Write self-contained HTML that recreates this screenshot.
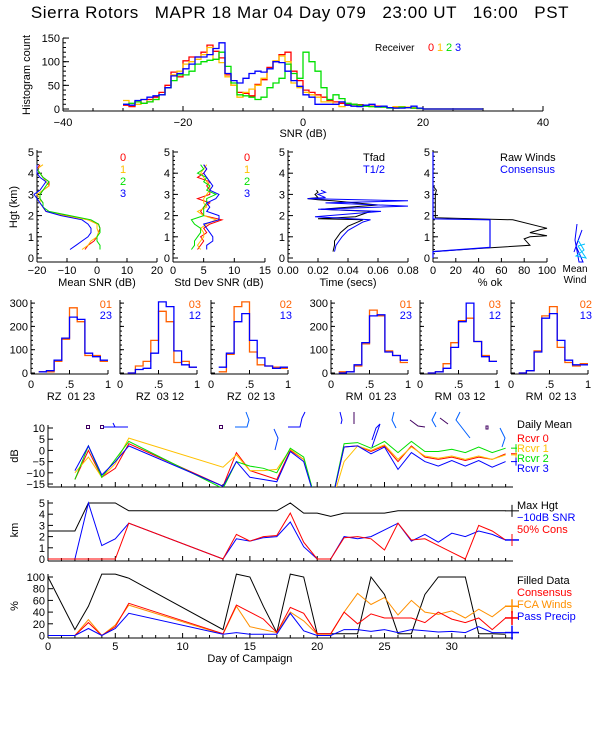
<!DOCTYPE html>
<html><head><meta charset="utf-8"><style>
html,body{margin:0;padding:0;background:#fff;}
svg{display:block;font-family:"Liberation Sans",sans-serif;}
text{white-space:pre;}
</style></head><body>
<svg id="fig" width="600" height="750" viewBox="0 0 600 750" xmlns="http://www.w3.org/2000/svg">
<text x="300" y="18" font-size="17" letter-spacing="0.6" text-anchor="middle">Sierra Rotors   MAPR 18 Mar 04 Day 079   23:00 UT   16:00   PST</text>
</svg>
<script>
// ---------- DATA: top SNR histogram (bins -30..29 dB, 1 dB wide) ----------
const snrBinStart = -30;
const histR0 = [8,5,15,12,20,25,35,50,78,68,102,110,110,120,135,122,108,72,50,35,33,28,52,62,88,100,115,120,80,60,40,35,30,25,18,15,12,10,10,9,7,6,6,5,3,3,3,3,2,1,0,0,0,0,0,0,0,0,0,0];
const histR1 = [18,8,10,20,15,20,30,45,72,80,95,100,105,115,130,105,98,68,50,25,35,42,50,65,85,102,112,100,55,45,35,30,25,15,15,10,5,8,9,8,6,5,5,4,3,5,5,4,3,1,0,0,0,0,0,0,0,0,0,0];
const histR2 = [10,12,15,12,15,20,30,45,60,72,72,80,95,100,103,105,120,90,55,30,28,25,20,25,45,55,65,95,75,65,120,100,80,45,20,30,22,12,10,8,6,5,4,4,2,2,4,3,2,1,0,0,0,0,0,0,0,0,0,0];
const histR3 = [10,8,18,20,25,28,30,45,70,75,85,95,110,110,115,128,140,75,60,55,65,75,80,78,85,100,98,80,60,48,30,25,10,10,10,10,15,8,6,5,8,10,5,6,3,2,2,3,6,2,0,0,0,0,0,0,0,0,0,0];
const histTicksX = [-40,-20,0,20,40];
const histTicksY = [0,50,100,150];

// ---------- DATA: profiles ----------
const profHgt = [0.4,0.6,0.8,1.0,1.2,1.4,1.6,1.8,2.0,2.2,2.4,2.6,2.8,3.0,3.2,3.4,3.6,3.8,4.0,4.2,4.4];
const meanSnr0 = [-4,-3,-1,0,0.5,1,0.5,-3,-10,-17,-18,-18,-19,-19,-18,-16,-16,-18,-19,-20,-19];
const meanSnr1 = [-5,-3,-2,0,0.5,0,0,-3,-11,-17,-18,-19,-19,-20,-18,-16,-17,-18,-19,-20,-18];
const meanSnr2 = [1,1,0,0,1,1,0.5,-2,-9,-16,-18,-18,-19,-19,-18,-17,-16,-18,-19,-20,-20];
const meanSnr3 = [-9,-7,-5,-3,-2,-2,-3,-5,-12,-17,-18,-19,-20,-21,-19,-18,-17,-19,-20,-20,-20];
const sdSnr0 = [4,4.5,5,4.5,5.5,5,6,8,5,4.5,5,6,4,6,6,5.5,6,4,5,5.5,5];
const sdSnr1 = [4.5,4,4.5,5,5,4.5,5.5,7,5,4,5.5,5,5,5.5,6,6,5.5,5,4.5,5,5.5];
const sdSnr2 = [3,3.5,3.5,4,4.5,4.5,3.5,3,5,5,5,5.5,5.5,7,5.5,6,5,5.5,4,5,4.5];
const sdSnr3 = [5.5,5.5,6.5,6.5,6,5.5,5,7.5,7.5,5.5,6,5.5,7,7.5,6,6.5,6,5.5,5,5.5,5];
const tfadT = [0.030,0.031,0.031,0.033,0.035,0.040,0.050,0.020,0.045,0.055,0.022,0.060,0.030,0.020,0.013,0.020,0.018,0.020,0.019];
const tfadH = [0.3,0.6,0.8,1.0,1.2,1.5,1.8,1.85,1.95,2.2,2.3,2.5,2.7,2.75,2.8,2.85,3.0,3.1,3.2];
const thalfT = [0.031,0.032,0.034,0.036,0.040,0.050,0.055,0.018,0.062,0.020,0.080,0.025,0.080,0.013,0.025,0.020,0.025,0.022];
const thalfH = [0.3,0.6,0.8,1.0,1.3,1.7,1.8,1.95,2.2,2.3,2.45,2.6,2.7,2.8,2.85,3.0,3.1,3.2];
const rawPct = [0,0,40,85,80,85,100,85,95,100,70,2,2,3,0,0];
const rawH = [0,0.3,0.45,0.6,0.9,1.0,1.05,1.2,1.35,1.4,1.8,1.9,3.0,3.2,3.4,5];
const consPct = [0,0,50,50,0,0];
const consH = [0,0.3,0.5,1.8,1.85,5];

// ---------- DATA: correlation histograms (bins 0.1..1.0 width 0.1) ----------
const corrBins = [0.1,0.2,0.3,0.4,0.5,0.6,0.7,0.8,0.9];
const corrTitles = ["RZ  01 23","RZ  03 12","RZ  02 13","RM  01 23","RM  03 12","RM  02 13"];
const corrKeyA = ["01","03","02","01","03","02"];
const corrKeyB = ["23","12","13","23","12","13"];
const corrA = [[5,5,50,145,280,220,75,75,50],[0,30,50,140,265,220,45,50,25],[5,80,285,305,90,35,30,25,20],[5,5,30,125,270,245,95,75,45],[0,5,40,130,225,235,135,75,50],[0,10,95,245,285,110,45,30,40]];
const corrB = [[5,10,55,150,240,230,85,70,55],[0,15,20,85,305,285,95,35,25],[25,85,220,255,140,65,30,20,25],[0,5,35,130,245,250,90,75,55],[0,5,20,110,220,300,135,70,50],[0,10,90,235,255,140,55,35,35]];

// ---------- DATA: campaign time series ----------
const dayTicks = [0,5,10,15,20,25,30];
const dbDays = [2,3,4,5,6,13,14,15,16,17,18,19,20,21,22,23,24,25,26,27,28,29,30,31,32,33,34];
const dbR0 = [-13,0,-12,-8,3,-16,-1,-9,-11,-13,0,-4,-25,-25,1.5,2,-0.5,2,-5,2,-3,-4,-3,-4.5,-3,-4,-1.5];
const dbR1 = [-10,-3,-12,-6,5.5,-7.5,-2,-9,-9,-8.5,0.5,-4,-25,-25,-5,2,0,2.5,-4,1.5,-2.5,-3.5,-2.5,-4,-2.5,-4,-2];
const dbR2 = [-13,2,-12,-4,4,-17,-5,-7,-8,-10,1,-3,-25,-25,3,3.5,1,4,-1,4,-0.5,-0.5,0.5,-1,1.5,-1,1];
const dbR3 = [-9,2,-11,-5,2,-16,-5,-12,-13,-14,-0.5,-5,-25,-25,1.5,2,-1.5,1.5,-8.5,-1,-5,-7,-4.5,-7,-4.5,-7.5,-5];
const dbTicks = [10,5,0,-5,-10,-15];
const kmDays = [0,2,3,4,5,6,13,14,15,16,17,18,19,20,21,22,23,24,25,26,27,28,29,30,31,32,33,34];
const kmMax = [2.5,2.5,5,5,5,4.3,4.3,4.3,4.3,4.3,4.3,5,4.1,4.1,3.8,4.1,4.1,4.1,4.1,4.3,4.3,4.3,4.3,4.3,4.3,4.3,4.3,4.3];
const kmSnr = [0,0,5,1.2,1.8,3.2,0,1.8,1.6,1.9,2,3.3,1.1,0,0,2,1.8,2,2.6,3.2,1.6,2.2,1.5,2.3,2,2.5,2.2,1.7];
const kmCons = [0,0,0,0,0,3.2,0,2.2,1.6,2,2.1,4.1,1.5,0,0,1.9,2,1.8,0.8,3.2,1.7,1.8,1.2,0.6,0,3,2.5,1.7];
const kmTicks = [0,1,2,3,4,5];
const pctDays = [0,2,3,4,5,6,13,14,15,16,17,18,19,20,21,22,23,24,25,26,27,28,29,30,31,32,33,34];
const pctFilled = [100,10,50,105,105,98,10,105,100,50,5,105,100,3,3,3,3,100,70,3,3,70,100,100,100,3,3,2];
const pctCons = [0,0,22,0,15,55,3,52,40,28,5,48,38,3,3,40,20,37,30,30,30,22,40,28,22,30,10,30];
const pctFca = [0,0,27,0,18,52,2,50,15,10,5,40,25,2,2,40,72,53,65,35,60,40,36,42,30,45,32,50];
const pctPrecip = [0,0,12,0,12,38,2,5,2,2,2,38,8,0,0,10,10,7,10,5,10,8,6,7,5,15,5,5];
const pctTicks = [0,20,40,60,80,100];

// ---------- drawing ----------
const svg = document.getElementById('fig');
const NS = 'http://www.w3.org/2000/svg';
function el(tag, attrs, parent){
  const e = document.createElementNS(NS, tag);
  for (const k in attrs) e.setAttribute(k, attrs[k]);
  (parent || svg).appendChild(e);
  return e;
}
function txt(x, y, s, size, color, anchor, name){
  const t = el('text', {x:x, y:y, 'font-size':size, fill:color, 'text-anchor':anchor||'start'});
  t.textContent = s;
  
  
  return t;
}
function poly(pts, color, name, w){
  const p = el('polyline', {points: pts.map(q=>q[0].toFixed(1)+','+q[1].toFixed(1)).join(' '), fill:'none', stroke:color, 'stroke-width': w||1.2});
  
  
  return p;
}
function steps(edges0, width, vals, xf, yf){
  const pts = [];
  for (let i=0;i<vals.length;i++){
    const a = edges0 + i*width, b = a + width;
    pts.push([xf(a), yf(vals[i])]); pts.push([xf(b), yf(vals[i])]);
  }
  return pts;
}
function line(x1,y1,x2,y2,name,color,w){
  const l = el('line', {x1:x1,y1:y1,x2:x2,y2:y2,stroke:color||'#000','stroke-width':w||1});
  
  
  return l;
}
const rc = ['#ff0000','#ffc000','#00e000','#0000ff'];

// --- top histogram ---
{
  const x = v => 303 + v*6.0, y = v => 109 - v*0.473;
  line(x(-40),111,x(40),111,'hist-x-axis');
  line(x(-40),38,x(-40),111,'hist-y-axis');
  histTicksX.forEach(v=>{ line(x(v),111,x(v),106,'hist-x-tick'); txt(x(v),126,v===0?'0':String(v).replace('-','\u2212'),11,'#000','middle','hist-x-tick-label'); });
  for (let v=-35; v<=35; v+=5) line(x(v),111,x(v),108,'hist-x-minor-tick');
  histTicksY.forEach(v=>{ line(x(-40),y(v),x(-40)+6,y(v),'hist-y-tick'); txt(x(-40)-3,y(v)+4,String(v),11,'#000','end','hist-y-tick-label'); });
  for (let v=0; v<=150; v+=10) line(x(-40),y(v),x(-40)+3,y(v),'hist-y-minor-tick');
  txt(303,137,'SNR (dB)',11,'#000','middle','hist-x-title');
  const yt = txt(0,0,'Histogram count',11,'#000','middle','hist-y-title');
  yt.setAttribute('transform','translate(30,75) rotate(-90)');
  [histR0,histR1,histR2,histR3].forEach((h,i)=> poly(steps(snrBinStart,1,h,x,y), rc[i], 'hist-receiver-'+i, 1.3));
  txt(375,51,'Receiver',10,'#000','start','hist-legend-title');
  ['0','1','2','3'].forEach((s,i)=> txt(428+i*9,51,s,11,rc[i],'start','hist-legend-receiver-'+s));
}

// --- profile panels ---
const yh = h => 258 - 21.2*h;
function profAxes(x0, x1, ticks, fmt, title, pname){
  line(x0,262,x1,262,pname+'-x-axis');
  line(x0,150,x0,262,pname+'-y-axis');
  ticks.forEach(t=>{ line(t.x,262,t.x,258,pname+'-x-tick'); txt(t.x,274,t.l,11,'#000','middle',pname+'-x-tick-label'); });
  for (let h=0; h<=5; h++){ line(x0,yh(h),x0+5,yh(h),pname+'-y-tick'); txt(x0-3,yh(h)+4,String(h),11,'#000','end',pname+'-y-tick-label'); }
  for (let h=0.2; h<5; h+=0.2) line(x0,yh(h),x0+2,yh(h),pname+'-y-minor-tick');
  txt((x0+x1)/2,286,title,11,'#000','middle',pname+'-x-title');
}
{
  const x1 = v => 97 + 3*v;
  profAxes(x1(-20),x1(20),[-20,-10,0,10,20].map(v=>({x:x1(v),l:String(v).replace('-','\u2212')})),null,'Mean SNR (dB)','mean-snr');
  const yt = txt(0,0,'Hgt (km)',11,'#000','middle','profile-y-title');
  yt.setAttribute('transform','translate(17,207) rotate(-90)');
  [meanSnr0,meanSnr1,meanSnr2,meanSnr3].forEach((a,i)=> poly(a.map((v,j)=>[x1(v),yh(profHgt[j])]), rc[i], 'mean-snr-receiver-'+i, 1));
  ['0','1','2','3'].forEach((s,i)=> txt(120,161+i*12,s,11,rc[i],'start','mean-snr-legend-'+s));
  const x2 = v => 173 + 6.13*v;
  profAxes(x2(0),x2(15),[0,5,10,15].map(v=>({x:x2(v),l:String(v)})),null,'Std Dev SNR (dB)','std-snr');
  [sdSnr0,sdSnr1,sdSnr2,sdSnr3].forEach((a,i)=> poly(a.map((v,j)=>[x2(v),yh(profHgt[j])]), rc[i], 'std-snr-receiver-'+i, 1));
  ['0','1','2','3'].forEach((s,i)=> txt(244,161+i*12,s,11,rc[i],'start','std-snr-legend-'+s));
  const x3 = v => 288 + 1500*v;
  profAxes(x3(0),x3(0.08),[0,0.02,0.04,0.06,0.08].map(v=>({x:x3(v),l:v.toFixed(2)})),null,'Time (secs)','time');
  poly(tfadT.map((v,j)=>[x3(v),yh(tfadH[j])]),'#000','tfad-line',1);
  poly(thalfT.map((v,j)=>[x3(v),yh(thalfH[j])]),'#0000ff','thalf-line',1);
  txt(363,161,'Tfad',11,'#000','start','time-legend-tfad');
  txt(363,173,'T1/2',11,'#0000ff','start','time-legend-thalf');
  const x4 = v => 433 + 1.14*v;
  profAxes(x4(0),x4(100),[0,20,40,60,80,100].map(v=>({x:x4(v),l:String(v)})),null,'% ok','pct-ok');
  poly(rawPct.map((v,j)=>[x4(v),yh(rawH[j])]),'#000','raw-winds-line',1);
  poly(consPct.map((v,j)=>[x4(v),yh(consH[j])]),'#0000ff','consensus-line',1.2);
  txt(500,161,'Raw Winds',11,'#000','start','pct-ok-legend-raw');
  txt(500,173,'Consensus',11,'#0000ff','start','pct-ok-legend-consensus');
  const g = el('g',{stroke:'#00a0ff','stroke-width':1,fill:'none'});
  
  
  el('polyline',{points:'577,224 575,240 579,262 583,262 576,246 582,230 574,252',stroke:'#0000ff'},g);
  el('polyline',{points:'578,240 584,250 576,256 586,258 578,246 585,244',stroke:'#00c0ff'},g);
  txt(575,272,'Mean',10,'#000','middle','mean-wind-label-1');
  txt(575,283,'Wind',10,'#000','middle','mean-wind-label-2');
}

// --- correlation histograms ---
{
  const lefts = [31,120,211,331,420,511];
  const yc = v => 373 - 0.233*v;
  lefts.forEach((L,p)=>{
    const xc = v => L + 77*v;
    line(L,374,L+77,374,'corr-x-axis');
    line(L,300,L,374,'corr-y-axis');
    [0,100,200,300].forEach(v=>{ line(L,yc(v),L+4,yc(v),'corr-y-tick'); if(p===0||p===3) txt(L-3,yc(v)+4,String(v),11,'#000','end','corr-y-tick-label'); });
    for (let v=20; v<=300; v+=20) line(L,yc(v),L+2,yc(v),'corr-y-minor-tick');
    [[0,'0'],[0.5,'.5'],[1,'1']].forEach(t=>{ line(xc(t[0]),374,xc(t[0]),370,'corr-x-tick'); txt(xc(t[0]),388,t[1],11,'#000','middle','corr-x-tick-label'); });
    txt(L+40,400,corrTitles[p],11,'#000','middle','corr-title-'+p);
    poly(steps(corrBins[0],0.1,corrA[p],xc,yc),'#ff6000','corr-hist-a-'+p,1.3);
    poly(steps(corrBins[0],0.1,corrB[p],xc,yc),'#0000ff','corr-hist-b-'+p,1.3);
    txt(L+81,308,corrKeyA[p],11,'#ff6000','end','corr-key-a-'+p);
    txt(L+81,319,corrKeyB[p],11,'#0000ff','end','corr-key-b-'+p);
  });
}

// --- campaign panels ---
const xd = d => 48 + 13.46*d;
function campAxes(yBot, yTop, ticks, yf, name){
  line(48,yBot,513,yBot,name+'-x-axis');
  line(48,yTop,48,yBot,name+'-y-axis');
  for (let d=0; d<=34; d++) line(xd(d),yBot,xd(d),yBot-(d%5===0?5:3),name+'-x-tick');
  ticks.forEach(v=>{ line(48,yf(v),53,yf(v),name+'-y-tick'); txt(45,yf(v)+4,String(v).replace('-','\u2212'),11,'#000','end',name+'-y-tick-label'); });
}
const clip = el('clipPath',{id:'dbclip'});
el('rect',{x:40,y:420,width:480,height:67},clip);
{
  const yd = v => 450.4 - 2.24*v;
  campAxes(487,425,dbTicks,yd,'daily-db');
  const yt = txt(0,0,'dB',11,'#000','middle','daily-db-y-title'); yt.setAttribute('transform','translate(18,456) rotate(-90)');
  const g = el('g',{'clip-path':'url(#dbclip)'});
  
  
  [dbR0,dbR1,dbR2,dbR3].forEach((a,i)=>{ const p = poly(a.map((v,j)=>[xd(dbDays[j]),yd(v)]), rc[i], 'daily-db-rcvr-'+i, 1); g.appendChild(p); });
  [dbR0,dbR1,dbR2,dbR3].forEach((a,i)=>{ const v = a[a.length-1]; line(516,yd(v)-4,516,yd(v)+4,'daily-db-marker-'+i,rc[i]); line(511,yd(v),517,yd(v),'daily-db-marker-dash-'+i,rc[i]); });
  txt(517,428,'Daily Mean',11,'#000','start','daily-legend-title');
  ['Rcvr 0','Rcvr 1','Rcvr 2','Rcvr 3'].forEach((s,i)=> txt(517,442+i*10,s,11,rc[i],'start','daily-legend-rcvr-'+i));
  const wb = el('g',{fill:'none','stroke-width':1});
  
  
  [[88,427],[102,427],[221,427]].forEach(q=> el('rect',{x:q[0]-1.5,y:q[1]-1.5,width:3,height:3,stroke:'#400060'},wb));
  el('polyline',{points:'103,427 128,427 115,427 113,423',stroke:'#0000ff'},wb);
  el('polyline',{points:'235,427 247,427 249,420 246,412',stroke:'#0060ff'},wb);
  el('polyline',{points:'274,429 278,438 275,450',stroke:'#0040ff'},wb);
  el('polyline',{points:'288,427 300,427 302,418 305,412',stroke:'#0000ff'},wb);
  el('polyline',{points:'340,412 342,420 341,424',stroke:'#0000ff'},wb);
  el('polyline',{points:'354,412 354,424',stroke:'#400060'},wb);
  el('polyline',{points:'372,440 376,428 380,424 372,447',stroke:'#0000ff'},wb);
  el('polyline',{points:'394,412 392,420 396,428',stroke:'#0060ff'},wb);
  el('polyline',{points:'410,420 418,426 425,427',stroke:'#400060'},wb);
  el('polyline',{points:'436,412 432,420 436,427',stroke:'#0060ff'},wb);
  el('polyline',{points:'440,418 448,424',stroke:'#400060'},wb);
  el('polyline',{points:'460,412 456,420 470,438',stroke:'#0060ff'},wb);
  el('rect',{x:486,y:426,width:2,height:3,stroke:'#400060'},wb);
  el('polyline',{points:'500,428 505,438 502,447',stroke:'#0060ff'},wb);
}
{
  const yk = v => 559 - 11.2*v;
  campAxes(561,500,kmTicks,yk,'height-km');
  const yt = txt(0,0,'km',11,'#000','middle','height-km-y-title'); yt.setAttribute('transform','translate(18,530) rotate(-90)');
  poly(kmMax.map((v,j)=>[xd(kmDays[j]),yk(v)]),'#000','max-height-line',1);
  poly(kmSnr.map((v,j)=>[xd(kmDays[j]),yk(v)]),'#0000ff','snr-10db-line',1);
  poly(kmCons.map((v,j)=>[xd(kmDays[j]),yk(v)]),'#ff0000','cons-50pct-line',1);
  line(505,yk(4.3),519,yk(4.3),'max-height-marker-h'); line(512,yk(4.3)-6,512,yk(4.3)+6,'max-height-marker-v');
  line(505,yk(1.7),519,yk(1.7),'km-marker-h','#0000ff',1.5); line(512,yk(1.7)-6,512,yk(1.7)+6,'km-marker-v','#ff0000');
  txt(517,509,'Max Hgt',11,'#000','start','km-legend-max');
  txt(517,521,'\u221210dB SNR',11,'#0000ff','start','km-legend-snr');
  txt(517,533,'50% Cons',11,'#ff0000','start','km-legend-cons');
}
{
  const yp = v => 635.5 - 0.585*v;
  campAxes(638,574,pctTicks,yp,'percent');
  const yt = txt(0,0,'%',11,'#000','middle','percent-y-title'); yt.setAttribute('transform','translate(18,606) rotate(-90)');
  poly(pctFilled.map((v,j)=>[xd(pctDays[j]),yp(v)]),'#000','filled-data-line',1);
  poly(pctFca.map((v,j)=>[xd(pctDays[j]),yp(v)]),'#ff9000','fca-winds-line',1);
  poly(pctCons.map((v,j)=>[xd(pctDays[j]),yp(v)]),'#ff0000','consensus-pct-line',1);
  poly(pctPrecip.map((v,j)=>[xd(pctDays[j]),yp(v)]),'#0000ff','pass-precip-line',1);
  dayTicks.forEach(d=> txt(xd(d),650,String(d),11,'#000','middle','day-tick-label'));
  txt(xd(15),662,'Day of Campaign',11,'#000','middle','day-axis-title');
  [[pctFca,'#ff9000'],[pctCons,'#ff0000'],[pctPrecip,'#0000ff']].forEach((s,i)=>{ const v=s[0][s[0].length-1]; line(505,yp(v),519,yp(v),'pct-marker-h-'+i,s[1],1.5); line(512,yp(v)-7,512,yp(v)+7,'pct-marker-v-'+i,s[1],1.5); });
  txt(517,584,'Filled Data',11,'#000','start','pct-legend-filled');
  txt(517,596,'Consensus',11,'#ff0000','start','pct-legend-consensus');
  txt(517,608,'FCA Winds',11,'#ff9000','start','pct-legend-fca');
  txt(517,620,'Pass Precip',11,'#0000ff','start','pct-legend-precip');
}
</script>
</body></html>
